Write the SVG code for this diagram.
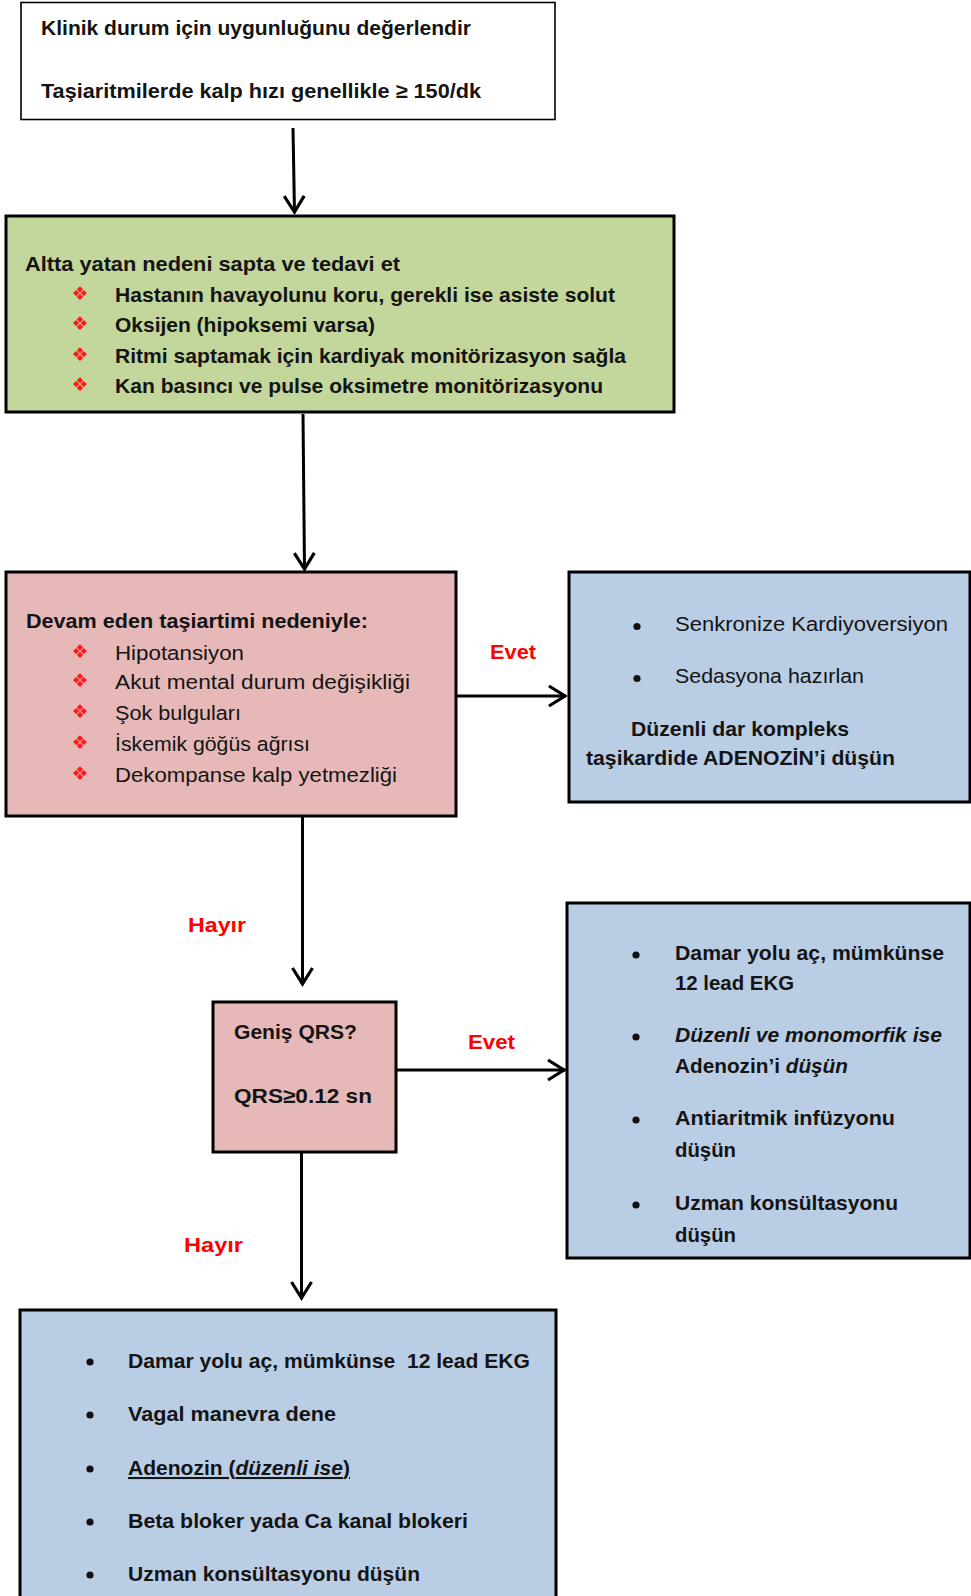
<svg xmlns="http://www.w3.org/2000/svg" width="971" height="1596" viewBox="0 0 971 1596">
<defs>
<style>
.t{font-family:"Liberation Sans",Arial,sans-serif;font-size:20.5px;fill:#141414}
.b{font-weight:bold}
.i{font-style:italic}
.red{font-family:"Liberation Sans",Arial,sans-serif;font-size:21px;font-weight:bold;fill:#ff0000}
.dia{font-family:"DejaVu Sans",sans-serif;font-size:19px;fill:#ff1a1a}
.box{stroke:#000;stroke-width:3}
.green{fill:#c3d69b}
.pink{fill:#e6b9b8}
.blue{fill:#b9cde5}
.conn{stroke:#000;stroke-width:3;fill:none}
</style>
<marker id="arr" markerUnits="userSpaceOnUse" markerWidth="30" markerHeight="30" viewBox="0 0 30 30" refX="22" refY="15" orient="auto">
<path d="M5 5 L21 15 L5 25" fill="none" stroke="#000" stroke-width="3.2" stroke-linejoin="miter"/>
</marker>
</defs>

<g id="connectors">
<line class="conn" x1="293" y1="128" x2="294.5" y2="213" marker-end="url(#arr)"/>
<line class="conn" x1="303" y1="414" x2="304.5" y2="570" marker-end="url(#arr)"/>
<line class="conn" x1="456" y1="696" x2="566" y2="696" marker-end="url(#arr)"/>
<line class="conn" x1="302.5" y1="816" x2="302.5" y2="985" marker-end="url(#arr)"/>
<line class="conn" x1="396" y1="1070" x2="565" y2="1070" marker-end="url(#arr)"/>
<line class="conn" x1="301.5" y1="1152" x2="301.5" y2="1299" marker-end="url(#arr)"/>
<text class="red" x="490" y="659" textLength="46" lengthAdjust="spacingAndGlyphs">Evet</text>
<text class="red" x="188" y="932" textLength="58" lengthAdjust="spacingAndGlyphs">Hayır</text>
<text class="red" x="468" y="1049" textLength="47" lengthAdjust="spacingAndGlyphs">Evet</text>
<text class="red" x="184" y="1252" textLength="59" lengthAdjust="spacingAndGlyphs">Hayır</text>
</g>

<g id="node-evaluate">
<rect x="21" y="2.5" width="534" height="117" fill="#fff" stroke="#000" stroke-width="1.6"/>
<text class="t b" x="41" y="35" textLength="430" lengthAdjust="spacingAndGlyphs">Klinik durum için uygunluğunu değerlendir</text>
<text class="t b" x="41" y="98" textLength="440" lengthAdjust="spacingAndGlyphs">Taşiaritmilerde kalp hızı genellikle ≥ 150/dk</text>
</g>

<g id="node-treat-cause">
<rect class="box green" x="6" y="216" width="668" height="196"/>
<text class="t b" x="25" y="271" textLength="375" lengthAdjust="spacingAndGlyphs">Altta yatan nedeni sapta ve tedavi et</text>
<text class="dia" x="80" y="300" text-anchor="middle">❖</text>
<text class="t b" x="115" y="302" textLength="500" lengthAdjust="spacingAndGlyphs">Hastanın havayolunu koru, gerekli ise asiste solut</text>
<text class="dia" x="80" y="330" text-anchor="middle">❖</text>
<text class="t b" x="115" y="332" textLength="260" lengthAdjust="spacingAndGlyphs">Oksijen (hipoksemi varsa)</text>
<text class="dia" x="80" y="361" text-anchor="middle">❖</text>
<text class="t b" x="115" y="363" textLength="511" lengthAdjust="spacingAndGlyphs">Ritmi saptamak için kardiyak monitörizasyon sağla</text>
<text class="dia" x="80" y="391" text-anchor="middle">❖</text>
<text class="t b" x="115" y="393" textLength="488" lengthAdjust="spacingAndGlyphs">Kan basıncı ve pulse oksimetre monitörizasyonu</text>
</g>

<g id="node-unstable">
<rect class="box pink" x="6" y="572" width="450" height="244"/>
<text class="t b" x="26" y="628" textLength="342" lengthAdjust="spacingAndGlyphs">Devam eden taşiartimi nedeniyle:</text>
<text class="dia" x="80" y="658" text-anchor="middle">❖</text>
<text class="t" x="115" y="660" textLength="129" lengthAdjust="spacingAndGlyphs">Hipotansiyon</text>
<text class="dia" x="80" y="687" text-anchor="middle">❖</text>
<text class="t" x="115" y="689" textLength="295" lengthAdjust="spacingAndGlyphs">Akut mental durum değişikliği</text>
<text class="dia" x="80" y="718" text-anchor="middle">❖</text>
<text class="t" x="115" y="720" textLength="126" lengthAdjust="spacingAndGlyphs">Şok bulguları</text>
<text class="dia" x="80" y="749" text-anchor="middle">❖</text>
<text class="t" x="115" y="751" textLength="195" lengthAdjust="spacingAndGlyphs">İskemik göğüs ağrısı</text>
<text class="dia" x="80" y="780" text-anchor="middle">❖</text>
<text class="t" x="115" y="782" textLength="282" lengthAdjust="spacingAndGlyphs">Dekompanse kalp yetmezliği</text>
</g>

<g id="node-cardioversion">
<rect class="box blue" x="569" y="572" width="401" height="230"/>
<circle cx="637" cy="626.5" r="3.6" fill="#111"/>
<text class="t" x="675" y="631" textLength="273" lengthAdjust="spacingAndGlyphs">Senkronize Kardiyoversiyon</text>
<circle cx="637" cy="678.5" r="3.6" fill="#111"/>
<text class="t" x="675" y="683" textLength="189" lengthAdjust="spacingAndGlyphs">Sedasyona hazırlan</text>
<text class="t b" x="631" y="736" textLength="218" lengthAdjust="spacingAndGlyphs">Düzenli dar kompleks</text>
<text class="t b" x="586" y="765" textLength="309" lengthAdjust="spacingAndGlyphs">taşikardide ADENOZİN’i düşün</text>
</g>

<g id="node-wide-qrs">
<rect class="box pink" x="213" y="1002" width="183" height="150" stroke-width="1.6"/>
<text class="t b" x="234" y="1039" textLength="123" lengthAdjust="spacingAndGlyphs">Geniş QRS?</text>
<text class="t b" x="234" y="1103" textLength="138" lengthAdjust="spacingAndGlyphs">QRS≥0.12 sn</text>
</g>

<g id="node-wide-treatment">
<rect class="box blue" x="567" y="903" width="403" height="355"/>
<circle cx="636" cy="955" r="3.6" fill="#111"/>
<text class="t b" x="675" y="960" textLength="269" lengthAdjust="spacingAndGlyphs">Damar yolu aç, mümkünse</text>
<text class="t b" x="675" y="990" textLength="119" lengthAdjust="spacingAndGlyphs">12 lead EKG</text>
<circle cx="636" cy="1037" r="3.6" fill="#111"/>
<text class="t b i" x="675" y="1042" textLength="267" lengthAdjust="spacingAndGlyphs">Düzenli ve monomorfik ise</text>
<text class="t b" x="675" y="1073" textLength="173" lengthAdjust="spacingAndGlyphs">Adenozin’i <tspan class="i">düşün</tspan></text>
<circle cx="636" cy="1120" r="3.6" fill="#111"/>
<text class="t b" x="675" y="1125" textLength="220" lengthAdjust="spacingAndGlyphs">Antiaritmik infüzyonu</text>
<text class="t b" x="675" y="1157" textLength="61" lengthAdjust="spacingAndGlyphs">düşün</text>
<circle cx="636" cy="1205" r="3.6" fill="#111"/>
<text class="t b" x="675" y="1210" textLength="223" lengthAdjust="spacingAndGlyphs">Uzman konsültasyonu</text>
<text class="t b" x="675" y="1242" textLength="61" lengthAdjust="spacingAndGlyphs">düşün</text>
</g>

<g id="node-narrow-treatment">
<rect class="box blue" x="20" y="1310" width="536" height="300"/>
<circle cx="90" cy="1362" r="3.6" fill="#111"/>
<text class="t b" x="128" y="1368" textLength="402" lengthAdjust="spacingAndGlyphs" xml:space="preserve">Damar yolu aç, mümkünse  12 lead EKG</text>
<circle cx="90" cy="1415" r="3.6" fill="#111"/>
<text class="t b" x="128" y="1421" textLength="208" lengthAdjust="spacingAndGlyphs">Vagal manevra dene</text>
<circle cx="90" cy="1469" r="3.6" fill="#111"/>
<text class="t b" x="128" y="1475" textLength="222" lengthAdjust="spacingAndGlyphs" text-decoration="underline">Adenozin (<tspan class="i">düzenli ise</tspan>)</text>
<circle cx="90" cy="1522" r="3.6" fill="#111"/>
<text class="t b" x="128" y="1528" textLength="340" lengthAdjust="spacingAndGlyphs">Beta bloker yada Ca kanal blokeri</text>
<circle cx="90" cy="1575" r="3.6" fill="#111"/>
<text class="t b" x="128" y="1581" textLength="292" lengthAdjust="spacingAndGlyphs">Uzman konsültasyonu düşün</text>
</g>
</svg>
